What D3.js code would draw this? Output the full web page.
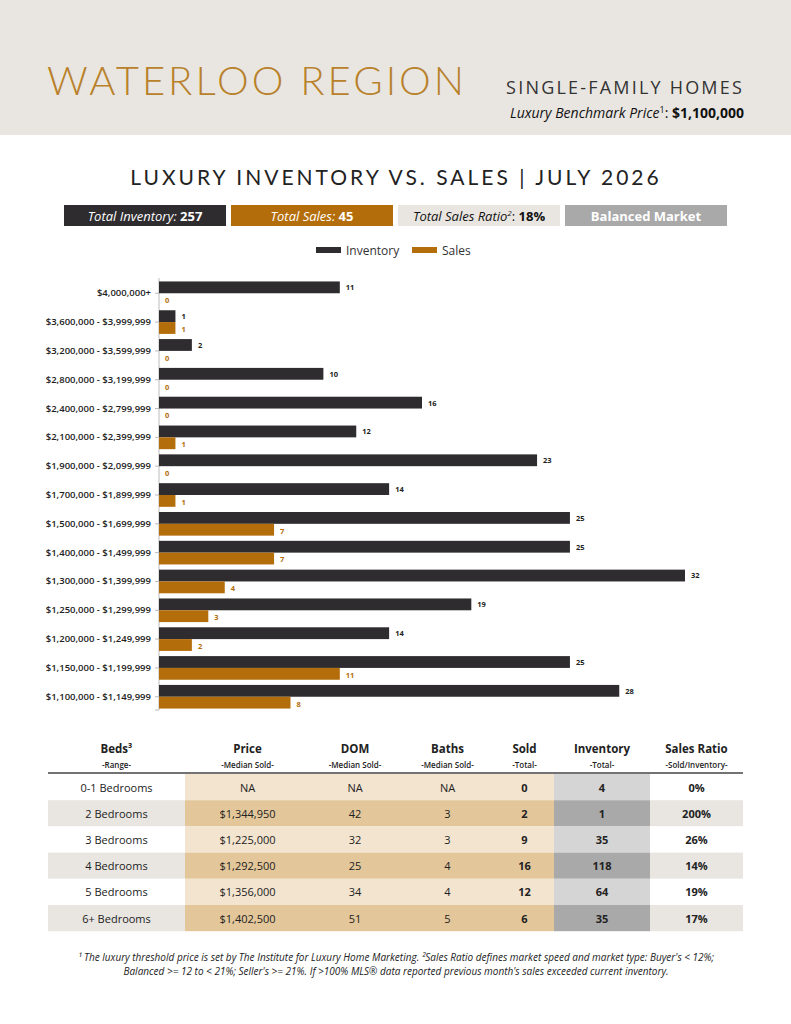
<!DOCTYPE html>
<html><head><meta charset="utf-8">
<script src="https://cdn.jsdelivr.net/npm/d3@7"></script>
<style>body{margin:0;background:#fff}svg{display:block;font-family:"Open Sans",sans-serif}</style>
</head><body><svg id="c" width="791" height="1024"></svg>
<script>
const categories=["$4,000,000+","$3,600,000 - $3,999,999","$3,200,000 - $3,599,999","$2,800,000 - $3,199,999","$2,400,000 - $2,799,999","$2,100,000 - $2,399,999","$1,900,000 - $2,099,999","$1,700,000 - $1,899,999","$1,500,000 - $1,699,999","$1,400,000 - $1,499,999","$1,300,000 - $1,399,999","$1,250,000 - $1,299,999","$1,200,000 - $1,249,999","$1,150,000 - $1,199,999","$1,100,000 - $1,149,999"];
const inventory=[11,1,2,10,16,12,23,14,25,25,32,19,14,25,28];
const sales=[0,1,0,0,0,1,0,1,7,7,4,3,2,11,8];
const tableHeaders=[["Beds³","-Range-"],["Price","-Median Sold-"],["DOM","-Median Sold-"],["Baths","-Median Sold-"],["Sold","-Total-"],["Inventory","-Total-"],["Sales Ratio","-Sold/Inventory-"]];
const beds=["0-1 Bedrooms","2 Bedrooms","3 Bedrooms","4 Bedrooms","5 Bedrooms","6+ Bedrooms"];
const price=["NA","$1,344,950","$1,225,000","$1,292,500","$1,356,000","$1,402,500"];
const dom=["NA","42","32","25","34","51"];
const baths=["NA","3","3","4","4","5"];
const sold=[0,2,9,16,12,6];
const inv=[4,1,35,118,64,35];
const ratio=["0%","200%","26%","14%","19%","17%"];

const svg=d3.select("#c");
const DARK="#2e2c2f",GOLD="#b36d0a";
svg.append("rect").attr("width",791).attr("height",135).attr("fill","#e9e6e1");
svg.append("text").attr("x",47).attr("y",95).attr("font-family","Lato").attr("font-weight",300).attr("font-size",40).attr("letter-spacing",3).attr("fill","#b8812a").attr("textLength",420).text("WATERLOO REGION");
svg.append("text").attr("x",744).attr("y",94).attr("text-anchor","end").attr("font-size",18).attr("letter-spacing",2.2).attr("fill","#333").text("SINGLE-FAMILY HOMES");
const lb=svg.append("text").attr("x",744).attr("y",118).attr("text-anchor","end").attr("font-size",14).attr("fill","#111");
lb.append("tspan").attr("font-style","italic").text("Luxury Benchmark Price");
lb.append("tspan").attr("font-size",9).attr("dy",-5).text("1");
lb.append("tspan").attr("dy",5).text(": ");
lb.append("tspan").attr("font-weight",700).text("$1,100,000");
svg.append("text").attr("x",396).attr("y",185).attr("text-anchor","middle").attr("font-family","Lato").attr("font-size",21).attr("letter-spacing",3).attr("fill","#222").text("LUXURY INVENTORY VS. SALES | JULY 2026");

const boxes=[{x:64,fill:DARK,c:"#fff",a:"Total Inventory: ",b:"257"},{x:231,fill:GOLD,c:"#fff",a:"Total Sales: ",b:"45"},{x:398,fill:"#e9e6e1",c:"#111",a:"Total Sales Ratio",sup:"2",a2:": ",b:"18%"},{x:565,fill:"#a9a9a9",c:"#fff",a:"",b:"Balanced Market"}];
boxes.forEach(d=>{svg.append("rect").attr("x",d.x).attr("y",205).attr("width",162).attr("height",21).attr("fill",d.fill);
 const t=svg.append("text").attr("x",d.x+81).attr("y",221).attr("text-anchor","middle").attr("font-size",13).attr("fill",d.c);
 if(d.a)t.append("tspan").attr("font-style","italic").text(d.a);
 if(d.sup){t.append("tspan").attr("font-size",8).attr("dy",-5).attr("font-style","italic").text(d.sup);t.append("tspan").attr("dy",5).text(d.a2);}
 t.append("tspan").attr("font-weight",700).text(d.b);});
[[316,DARK,"Inventory"],[412,GOLD,"Sales"]].forEach(([x,c,l])=>{svg.append("rect").attr("x",x).attr("y",247).attr("width",25).attr("height",6).attr("fill",c);
 svg.append("text").attr("x",x+30).attr("y",255).attr("font-size",12).attr("fill","#333").text(l);});

const x0=159;
const x=d3.scaleLinear().domain([0,32]).range([x0,685]);
const y=d3.scaleBand().domain(categories).range([280,710]).paddingInner(0.18).paddingOuter(0.05);
const bh=y.bandwidth()/2;
const g=svg.append("g");
g.append("line").attr("x1",x0).attr("x2",x0).attr("y1",278).attr("y2",710).attr("stroke","#bbb");
categories.forEach((c,i)=>{
 const yy=y(c);
 g.append("line").attr("x1",x0-4).attr("x2",x0).attr("y1",yy+bh).attr("y2",yy+bh).attr("stroke","#bbb");
 g.append("text").attr("x",151).attr("y",yy+bh+3).attr("text-anchor","end").attr("font-size",9.5).attr("font-weight",600).attr("fill","#222").text(c);
 g.append("rect").attr("x",x0).attr("y",yy).attr("width",x(inventory[i])-x0).attr("height",bh).attr("fill",DARK);
 g.append("text").attr("x",x(inventory[i])+6).attr("y",yy+bh-3).attr("font-size",7.5).attr("font-weight",700).attr("fill","#222").text(inventory[i]);
 g.append("rect").attr("x",x0).attr("y",yy+bh).attr("width",x(sales[i])-x0).attr("height",bh).attr("fill",GOLD);
 g.append("text").attr("x",x(sales[i])+6).attr("y",yy+2*bh-2).attr("font-size",7.5).attr("font-weight",700).attr("fill",GOLD).text(sales[i]);
});
g.append("line").attr("x1",x0-4).attr("x2",x0).attr("y1",710).attr("y2",710).attr("stroke","#bbb");

// table
const cols=[[48,185],[185,310],[310,400],[400,495],[495,554],[554,650],[650,743]];
const rows=[beds,price,dom,baths,sold,inv,ratio];
const bold=[false,false,false,false,true,true,true];
tableHeaders.forEach((h,j)=>{const cx=(cols[j][0]+cols[j][1])/2;
 svg.append("text").attr("x",cx).attr("y",753).attr("text-anchor","middle").attr("font-size",11.5).attr("font-weight",700).attr("fill","#222").text(h[0]);
 svg.append("text").attr("x",cx).attr("y",768).attr("text-anchor","middle").attr("font-size",8).attr("font-weight",600).attr("fill","#222").text(h[1]);});
const rh=26.2,ty=774;
beds.forEach((b,i)=>{const dark=i%2==1;
 cols.forEach((c,j)=>{let f;
  if(j==0||j==6)f=dark?"#e9e6e1":"#fff";else if(j==5)f=dark?"#a9a9a9":"#d6d5d5";else f=dark?"#e3c79b":"#f2e4cf";
  svg.append("rect").attr("x",c[0]).attr("y",ty+i*rh).attr("width",c[1]-c[0]).attr("height",rh).attr("fill",f);
  svg.append("text").attr("x",(c[0]+c[1])/2).attr("y",ty+i*rh+17.5).attr("text-anchor","middle").attr("font-size",11).attr("font-weight",bold[j]?700:400).attr("fill","#222").text(rows[j][i]);});});
svg.append("line").attr("x1",48).attr("x2",743).attr("y1",773).attr("y2",773).attr("stroke","#444").attr("stroke-width",1.5);
const fn=svg.append("g").attr("font-size",10).attr("font-style","italic").attr("fill","#222").attr("text-anchor","middle");
fn.append("text").attr("x",396).attr("y",961).text("¹ The luxury threshold price is set by The Institute for Luxury Home Marketing. ²Sales Ratio defines market speed and market type: Buyer's < 12%;");
fn.append("text").attr("x",396).attr("y",975).text("Balanced >= 12 to < 21%; Seller's >= 21%. If >100% MLS® data reported previous month's sales exceeded current inventory.");
</script></body></html>
